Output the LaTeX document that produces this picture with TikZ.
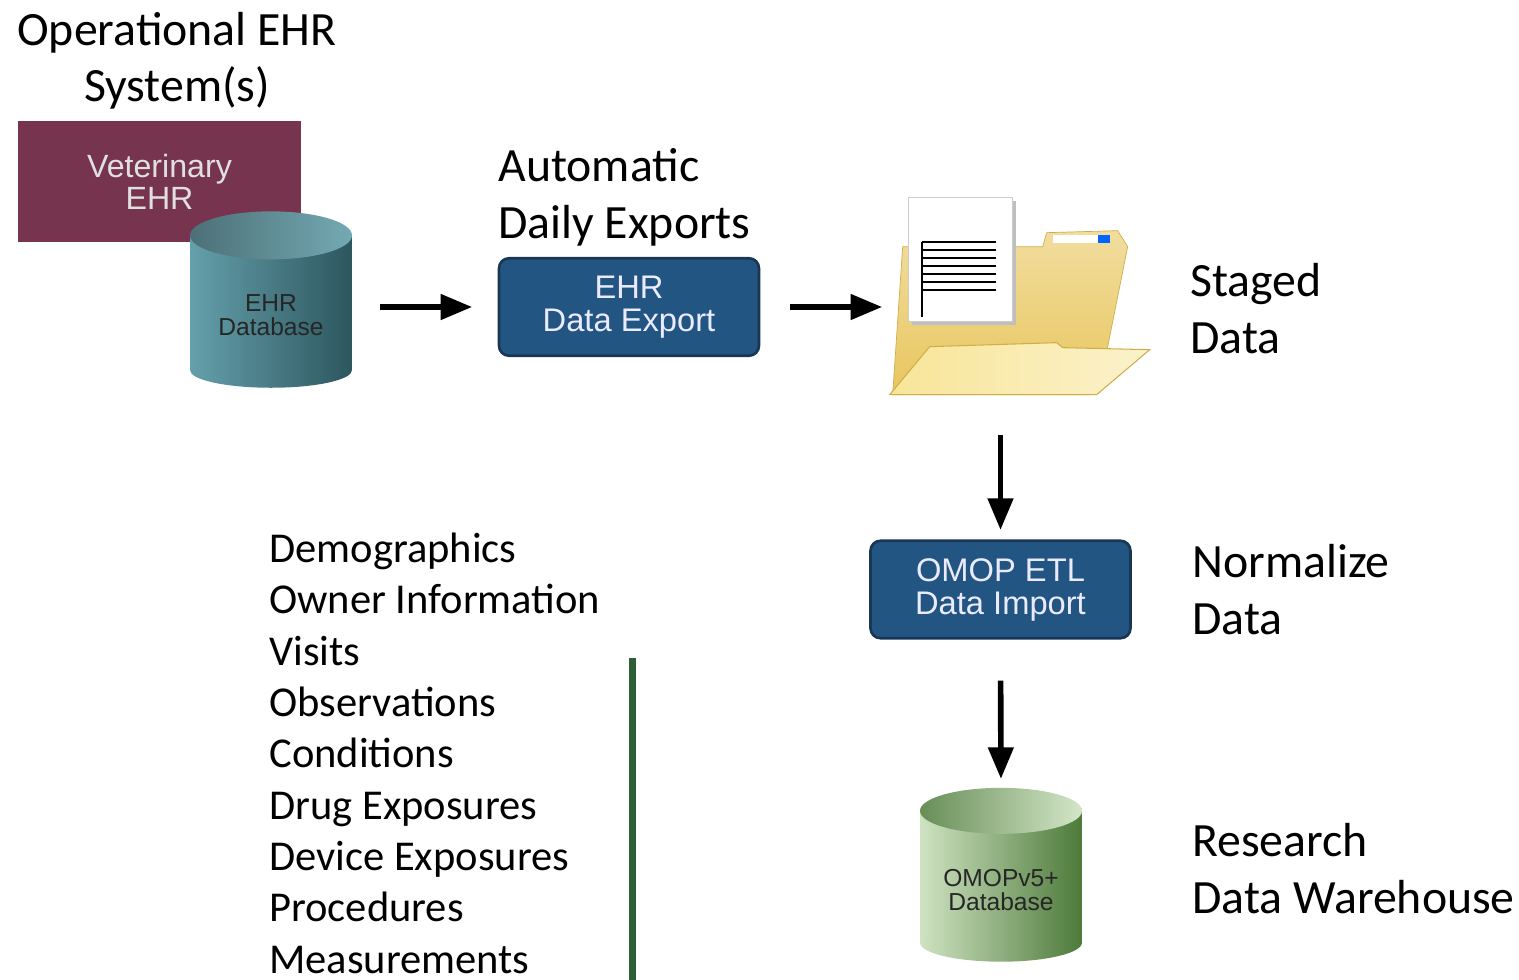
\documentclass[tikz,border=0pt]{standalone}
\usepackage{fontspec}
\setmainfont{Carlito}
\newfontfamily\arialfont{Liberation Sans}
\usetikzlibrary{shapes, shapes.geometric, arrows, calc}

\definecolor{vetred}{HTML}{76344F}
\definecolor{boxblue}{HTML}{235582}
\definecolor{tealL}{HTML}{64A0AB}
\definecolor{tealD}{HTML}{2D565F}
\definecolor{greenL}{HTML}{CFE3C2}
\definecolor{greenD}{HTML}{4D7A3A}
\definecolor{folderB}{HTML}{E8C65E}
\definecolor{folderF}{HTML}{F8E598}
\definecolor{folderE}{HTML}{CFAE4A}
\definecolor{bargreen}{HTML}{2E5E36}

\tikzstyle{caption} =
        [
                font = \fontsize{27.2}{32.4}\selectfont,
                align = left,
                anchor = base west,
                inner sep = 0pt
        ]
\tikzstyle{itemlist} =
        [
                font = \fontsize{24.2}{29.2}\selectfont,
                align = left,
                anchor = base west,
                inner sep = 0pt
        ]
\tikzstyle{system} =
        [
                rectangle,
                fill = vetred,
                text = white!88!black,
                font = \arialfont\fontsize{18.3}{18.2}\selectfont,
                align = center,
                minimum width = 5.66cm,
                minimum height = 2.42cm
        ]
\tikzstyle{block} =
        [
                rectangle,
                draw = boxblue!65!black,
                line width = 1.5pt,
                fill = boxblue,
                text = white!92!blue,
                font = \arialfont\fontsize{18.6}{18.8}\selectfont,
                align = center,
                rounded corners = 0.2cm,
                minimum width = 5.2cm,
                minimum height = 1.95cm
        ]
\tikzstyle{database} =
        [
                cylinder,
                shape border rotate = 90,
                aspect = 0.3,
                text = black!85,
                font = \arialfont\fontsize{14}{14}\selectfont,
                align = center,
                minimum width = 3.24cm,
                minimum height = 3.4cm
        ]
\tikzstyle{line} =
        [
                draw,
                line width = 3.2pt,
                -triangle 45
        ]

\begin{document}
\begin{tikzpicture}[x = 0.02cm, y = -0.02cm]
        \useasboundingbox (0,0) rectangle (1519,980);

        \node [caption, align = center, anchor = base] (ehrsys) at (177,102) {Operational EHR\\System(s)};
        \node [system] (vet) at (159.5,181.5) {Veterinary\\EHR};
        \node [database, shade, left color = tealL, right color = tealD] (ehrdb) at (271,315) {EHR\\Database};
        \shade [left color = tealD!85, right color = tealL!90!white] ($(ehrdb.before top)!0.5!(ehrdb.after top)$) ellipse [x radius = 1.62cm, y radius = 0.48cm];

        \node [caption] (autolbl) at (498,238) {Automatic\\Daily Exports};
        \node [block] (export) at (629,307) {EHR\\Data Export};

        \node [rectangle, minimum width = 5.26cm, minimum height = 4cm] (staged) at (1021.5,297) {};
        \node [caption] (stagedlbl) at (1190,353) {Staged\\Data};

        \node [block] (import) at (1000.5,589.5) {OMOP ETL\\Data Import};
        \node [caption] (normlbl) at (1192,634) {Normalize\\Data};

        \node [database, shade, left color = greenL, right color = greenD] (omopdb) at (1001,890) {OMOPv5+\\Database};
        \shade [left color = greenD!85, right color = greenL!90!white] ($(omopdb.before top)!0.5!(omopdb.after top)$) ellipse [x radius = 1.62cm, y radius = 0.46cm];
        \node [caption] (rdwlbl) at (1192,913) {Research\\Data Warehouse};

        \node [itemlist] (tables) at (269,973) {Demographics\\Owner Information\\Visits\\Observations\\Conditions\\Drug Exposures\\Device Exposures\\Procedures\\Measurements};
        \draw [bargreen, line width = 0.14cm] (632,658) -- (632,980);

        % folder icon
        \begin{scope}[shift = {(staged.north west)}]
                \shade [top color = folderB!60!white, bottom color = folderB, draw = folderE, line width = 0.4pt] (3,198) -- (13,50) -- (153,50) -- (157,36) -- (228,34) -- (238,50) -- (218,150) -- (200,198) -- cycle;
                \fill [white] (163,38) rectangle (220,46);
                \fill [blue!60!cyan] (208,38) rectangle (220,46);
                \fill [black!25] (22,4) rectangle (126,128);
                \filldraw [fill = white, draw = black!20] (19,1) rectangle (123,125);
                \draw [line width = 1.3pt] (32,45) -- (106,45) (32,53) -- (106,53) (32,61) -- (106,61) (32,69) -- (106,69) (32,77) -- (106,77) (32,85) -- (106,85) (32,93) -- (106,93) (32,45) -- (32,120);
                \shade [left color = folderF, right color = folderF!50!white, draw = folderE, line width = 0.6pt] (0,198) -- (40,150) -- (167,146) -- (173,151) -- (260,153) -- (207,198) -- cycle;
        \end{scope}

        \path [line, shorten <= 0.56cm, shorten >= 0.52cm] (ehrdb.east |- export.west) -- (export.west);
        \path [line, shorten <= 0.6cm, shorten >= 0.16cm] (export.east) -- (export.east -| staged.west);
        \path [line, shorten <= 0.76cm, shorten >= 0.2cm] (import.north |- staged.south) -- (import.north);
        \path [line, shorten <= 0.82cm, shorten >= 0.26cm] (import.south) -- (omopdb.top);
\end{tikzpicture}
\end{document}
